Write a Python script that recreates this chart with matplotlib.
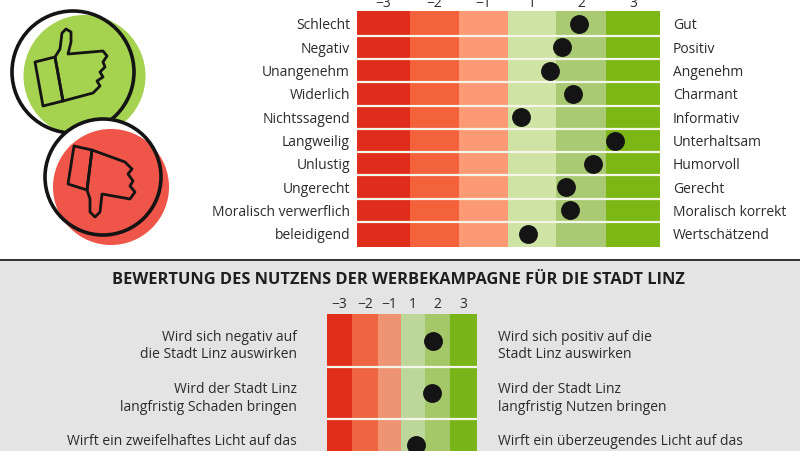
import matplotlib
matplotlib.use('Agg')
import matplotlib.pyplot as plt
from matplotlib.patches import Circle, Polygon, Rectangle

plt.rcParams['font.family'] = ['Open Sans', 'DejaVu Sans']

W, H = 800, 452

# Skala
skala_labels = ['−3', '−2', '−1', '1', '2', '3']

# Oberes Panel
links_oben = ['Schlecht', 'Negativ', 'Unangenehm', 'Widerlich', 'Nichtssagend',
              'Langweilig', 'Unlustig', 'Ungerecht', 'Moralisch verwerflich', 'beleidigend']
rechts_oben = ['Gut', 'Positiv', 'Angenehm', 'Charmant', 'Informativ',
               'Unterhaltsam', 'Humorvoll', 'Gerecht', 'Moralisch korrekt', 'Wertschätzend']
werte_oben = [1.90, 1.56, 1.32, 1.78, 0.75, 2.61, 2.17, 1.64, 1.72, 0.89]

# Unteres Panel (im Bild abgeschnitten)
titel_unten = 'BEWERTUNG DES NUTZENS DER WERBEKAMPAGNE FÜR DIE STADT LINZ'
links_unten = ['Wird sich negativ auf\ndie Stadt Linz auswirken',
               'Wird der Stadt Linz\nlangfristig Schaden bringen',
               'Wirft ein zweifelhaftes Licht auf das']
rechts_unten = ['Wird sich positiv auf die\nStadt Linz auswirken',
                'Wird der Stadt Linz\nlangfristig Nutzen bringen',
                'Wirft ein überzeugendes Licht auf das']
werte_unten = [1.76, 1.72, 1.08]

farben_oben = ['#e02c1a', '#f4623c', '#fd9a76', '#cfe3a4', '#a9c972', '#7db716']
farben_unten = ['#e02e1b', '#ef6541', '#ee9473', '#bdd79b', '#a4c768', '#79b518']
TEXT = '#2b2b2b'


def position(v):
    # die Skala hat keine 0: -3..-1 und 1..3 liegen direkt nebeneinander
    return v + 3 if v < 0 else v + 2


def panel(px_kanten, y0, y1, ylim, farben, werte, links, rechts, pad_l, pad_r, tick_pad, mehrzeilig=False):
    x0, x1 = px_kanten[0], px_kanten[-1]
    ax = fig.add_axes([x0 / W, 1 - y1 / H, (x1 - x0) / W, (y1 - y0) / H])
    # Spalten sind im Original nicht ganz gleich breit
    kanten = [(k - x0) / (x1 - x0) * 6 - 0.5 for k in px_kanten]
    mitten = [(a + b) / 2 for a, b in zip(kanten[:-1], kanten[1:])]
    for i, farbe in enumerate(farben):
        ax.bar(kanten[i], ylim[0] - ylim[1], width=kanten[i + 1] - kanten[i], bottom=ylim[1],
               align='edge', color=farbe, linewidth=0)
    for r in range(len(werte) - 1):
        ax.axhline(r + 0.5, color='#f4f6ea', lw=1.6)
    ax.scatter([position(v) for v in werte], range(len(werte)), s=185, color='#141414',
               linewidth=0, zorder=3, clip_on=False)
    ax.set_xlim(-0.5, 5.5)
    ax.set_ylim(*ylim)
    ax.xaxis.tick_top()
    ax.set_xticks(mitten, skala_labels, fontsize=10, color=TEXT)
    ax.tick_params(axis='x', length=0, pad=tick_pad)
    ax.set_yticks([])
    for s in ax.spines.values():
        s.set_visible(False)
    trans = ax.get_yaxis_transform()
    for r in range(len(werte)):
        y = r - 0.23 if mehrzeilig else r + 0.04
        va = 'top' if mehrzeilig else 'center'
        ax.text(-pad_l / (x1 - x0), y, links[r], transform=trans, ha='right', va=va,
                fontsize=10, color=TEXT, linespacing=1.22)
        ax.text(1 + pad_r / (x1 - x0), y, rechts[r], transform=trans, ha='left', va=va,
                fontsize=10, color=TEXT, linespacing=1.22)
    return ax


fig = plt.figure(figsize=(W / 100, H / 100), dpi=100, facecolor='white')

# Hintergrund und Icons in Pixelkoordinaten
bg = fig.add_axes([0, 0, 1, 1])
bg.set_xlim(0, W)
bg.set_ylim(H, 0)
bg.axis('off')
bg.add_patch(Rectangle((0, 261), W, H - 261, color='#e4e4e4', lw=0))
bg.add_patch(Rectangle((0, 259.5), W, 2.5, color='#333333', lw=0))

bg.add_patch(Circle((84.5, 77), 61, color='#a5d24f', lw=0))
bg.add_patch(Circle((73, 73), 61, fill=False, ec='#141414', lw=2.6))
bg.add_patch(Circle((103, 178), 58, color='white', lw=0))
bg.add_patch(Circle((111, 188), 58, color='#ef5548', lw=0))
bg.add_patch(Circle((103, 178), 58, fill=False, ec='#141414', lw=2.6))

daumen_hoch = [(55, 58), (60, 50), (62, 34), (66, 30), (71, 33), (71, 43), (68, 55), (103, 52),
               (107, 57), (103, 63), (105, 68), (100, 73), (103, 78), (97, 82), (100, 87),
               (93, 94), (63, 102)]
manschette_hoch = [(35, 63), (55, 58), (63, 102), (43, 107)]
daumen_runter = [(92, 151), (125, 163), (132, 170), (128, 175), (133, 182), (130, 187),
                 (135, 193), (130, 200), (102, 195), (100, 213), (95, 218), (90, 213),
                 (90, 200), (87, 191)]
manschette_runter = [(74, 147), (92, 151), (87, 191), (68, 185)]
for form in [daumen_hoch, manschette_hoch, daumen_runter, manschette_runter]:
    bg.add_patch(Polygon(form, closed=True, fill=False, ec='#141414', lw=2.0, joinstyle='round'))

bg.text(398, 280, titel_unten, ha='center', va='center', fontsize=11.8, fontweight='bold', color='#1e1e1e')

# row 0 bei y=25, Abstand 23.3 px
panel([357, 410, 459, 508, 556, 606, 660], 12, 248, (9.57, -0.56), farben_oben, werte_oben,
      links_oben, rechts_oben, 7, 13, 1)
# row 0 bei y=342, Abstand 52.2 px
panel([326.5, 352, 377.5, 400.5, 425, 450, 476.5], 315, 452, (2.107, -0.517), farben_unten, werte_unten,
      links_unten, rechts_unten, 30, 21, 2, mehrzeilig=True)

fig.savefig('out.png', dpi=100)
